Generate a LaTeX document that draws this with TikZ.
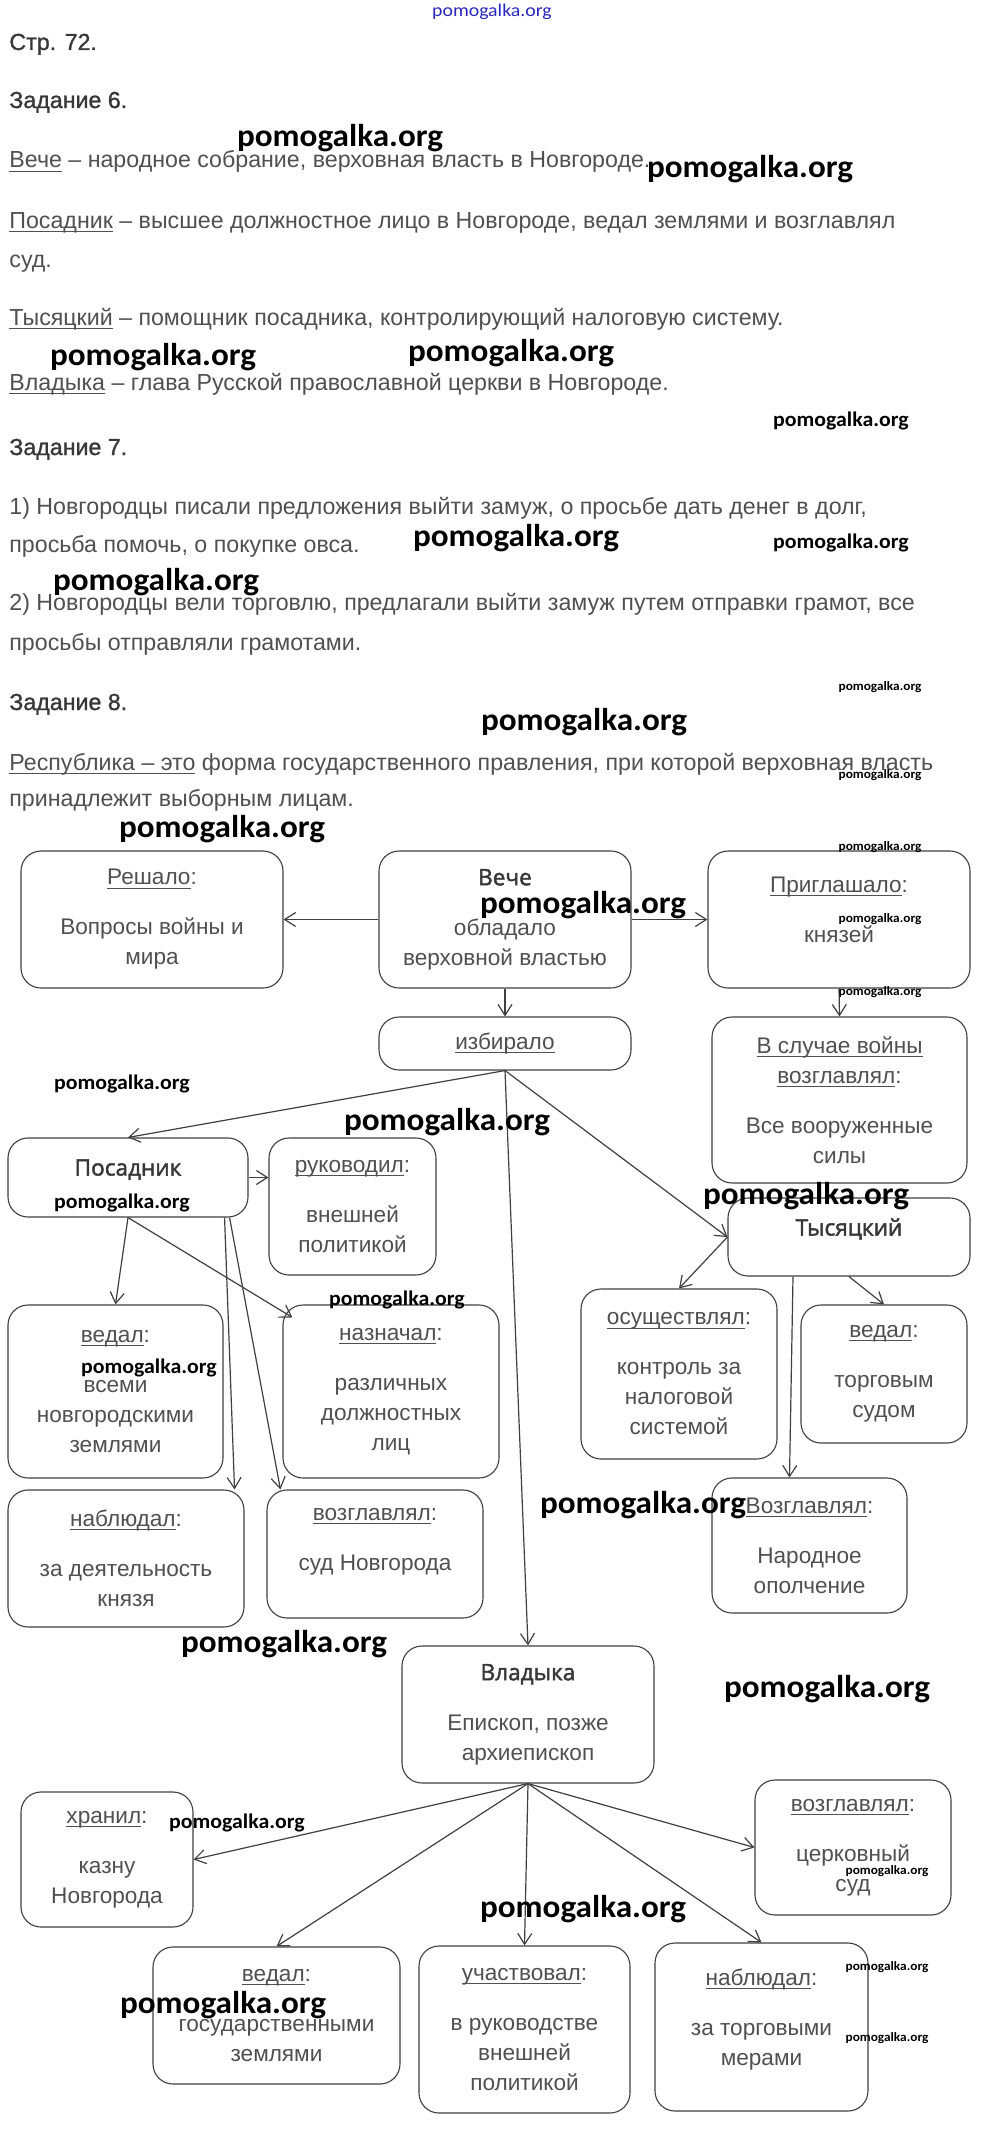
\documentclass[tikz,border=0pt]{standalone}
\usepackage{fontspec}
\setmainfont{Liberation Sans}
\newfontfamily\headfont{Liberation Sans}[FakeBold=1.2]
\newfontfamily\titlefont{Open Sans}[FakeBold=2]
\newfontfamily\wmfont{Carlito}[FakeStretch=1.05]
\newfontfamily\wmthin{Carlito}[FakeStretch=1.1]
\usetikzlibrary{arrows.meta}
\definecolor{linec}{HTML}{404040}
\definecolor{txtc}{HTML}{505050}
\definecolor{headc}{HTML}{383838}
\definecolor{wmblue}{HTML}{2828C0}
\newsavebox\ulbox
\newcommand\undl[1]{\sbox\ulbox{#1}\rlap{\rule[-1.8pt]{\wd\ulbox}{0.5pt}}\usebox\ulbox}
\newcommand\ttl[1]{{\titlefont\color{headc}#1}}
\begin{document}
\begin{tikzpicture}[
    x=0.5pt, y=-0.5pt,
    txt/.style={anchor=base west, inner sep=0pt, text=txtc, font=\fontsize{11.6}{15}\selectfont},
    head/.style={txt, text=headc, font=\headfont\fontsize{11.6}{15}\selectfont},
    box/.style={draw=linec, line width=0.55pt, rounded corners=10pt, align=center,
      inner sep=0pt, text=txtc, font=\fontsize{11.3}{15}\selectfont},
    wh/.style 2 args={minimum width=#1*0.5pt, minimum height=#2*0.5pt},
    arr/.style={draw=linec, line width=0.6pt, -{Straight Barb[length=5.5pt,width=7pt]}},
    wmbig/.style={inner sep=0pt, font=\wmfont\bfseries\fontsize{15.8}{17}\selectfont},
    wmmid/.style={inner sep=0pt, font=\wmfont\bfseries\fontsize{10.4}{12}\selectfont},
    wmsmall/.style={inner sep=0pt, font=\wmfont\bfseries\fontsize{6.35}{7}\selectfont}
  ]
    \fill[white] (0,0) rectangle (982,2130);
    \useasboundingbox (0,0) rectangle (982,2130);
    \node[inner sep=0pt, text=wmblue, font=\wmthin\fontsize{9}{10}\selectfont] (site) at (492,12) {pomogalka.org};

    \node[head] (page) at (9,50) {Стр. 72.};
    \node[head] (task6) at (9,108) {Задание 6.};
    \node[txt] (def1) at (9,168) {\undl{Вече} – народное собрание, верховная власть в Новгороде.};
    \node[txt] (def2) at (9,228) {\undl{Посадник} – высшее должностное лицо в Новгороде, ведал землями и возглавлял};
    \node[txt] (def2b) at (9,267) {суд.};
    \node[txt] (def3) at (9,325) {\undl{Тысяцкий} – помощник посадника, контролирующий налоговую систему.};
    \node[txt] (def4) at (9,390) {\undl{Владыка} – глава Русской православной церкви в Новгороде.};
    \node[head] (task7) at (9,455) {Задание 7.};
    \node[txt] (ans1) at (9,514) {1) Новгородцы писали предложения выйти замуж, о просьбе дать денег в долг,};
    \node[txt] (ans1b) at (9,552) {просьба помочь, о покупке овса.};
    \node[txt] (ans2) at (9,610) {2) Новгородцы вели торговлю, предлагали выйти замуж путем отправки грамот, все};
    \node[txt] (ans2b) at (9,650) {просьбы отправляли грамотами.};
    \node[head] (task8) at (9,710) {Задание 8.};
    \node[txt] (rep) at (9,770) {\undl{Республика – это} форма государственного правления, при которой верховная власть};
    \node[txt] (repb) at (9,806) {принадлежит выборным лицам.};

    \node[box, wh={262}{137}] (reshalo) at (152,919.5) {\undl{Решало}:\\[10pt]Вопросы войны и\\мира};
    \node[box, wh={252}{137}] (veche) at (505,919.5) {\ttl{Вече}\\[10pt]обладало\\верховной властью};
    \node[box, wh={262}{137}] (prigl) at (839,919.5) {\undl{Приглашало}:\\[10pt]князей\\[-5pt]\mbox{}};
    \node[box, wh={252}{53}] (izbir) at (505,1043.5) {\undl{избирало}};
    \node[box, wh={255}{166}] (voyna) at (839.5,1100) {\undl{В случае войны}\\\undl{возглавлял}:\\[10pt]Все вооруженные\\силы};
    \node[box, wh={240}{79}] (posad) at (128,1177.5) {\ttl{Посадник}\\[-5pt]\mbox{}};
    \node[box, wh={167}{137}] (rukov) at (352.5,1206.5) {\undl{руководил}:\\[10pt]внешней\\политикой};
    \node[box, wh={242}{78}] (tys) at (849,1237) {\ttl{Тысяцкий}\\[-5pt]\mbox{}};
    \node[box, wh={215}{173}] (vedal1) at (115.5,1391.5) {\undl{ведал}:\\[10pt]всеми\\новгородскими\\землями};
    \node[box, wh={216}{173}] (nazn) at (391,1391.5) {\undl{назначал}:\\[10pt]различных\\должностных\\лиц};
    \node[box, wh={196}{170}] (osush) at (679,1374) {\undl{осуществлял}:\\[10pt]контроль за\\налоговой\\системой};
    \node[box, wh={166}{138}] (vedal2) at (884,1374) {\undl{ведал}:\\[10pt]торговым\\судом};
    \node[box, wh={236}{137}] (nabl1) at (126,1558.5) {\undl{наблюдал}:\\[10pt]за деятельность\\князя};
    \node[box, wh={216}{128}] (vozgl1) at (375,1554) {\undl{возглавлял}:\\[10pt]суд Новгорода\\\mbox{}};
    \node[box, wh={195}{135}] (vozgl2) at (809.5,1545.5) {\undl{Возглавлял}:\\[10pt]Народное\\ополчение};
    \node[box, wh={252}{137}] (vlad) at (528,1714.5) {\ttl{Владыка}\\[10pt]Епископ, позже\\архиепископ};
    \node[box, wh={172}{135}] (khran) at (107,1859.5) {\undl{хранил}:\\[10pt]казну\\Новгорода};
    \node[box, wh={196}{135}] (vozgl3) at (853,1847.5) {\undl{возглавлял}:\\[10pt]церковный\\суд};
    \node[box, wh={247}{137}] (vedal3) at (276.5,2015.5) {\undl{ведал}:\\[10pt]государственными\\землями};
    \node[box, wh={211}{167}] (uchast) at (524.5,2029.5) {\undl{участвовал}:\\[10pt]в руководстве\\внешней\\политикой};
    \node[box, wh={213}{168}] (nabl2) at (761.5,2027) {\undl{наблюдал}:\\[10pt]за торговыми\\мерами\\[-5pt]\mbox{}};

    \draw[arr] (veche.west) -- (reshalo.east);
    \draw[arr] (veche.east) -- (prigl.west);
    \draw[arr] (veche.south) -- (izbir.north);
    \draw[arr] (prigl.south) -- (voyna.north);
    \draw[arr] (izbir.south) -- (posad.north);
    \draw[arr] (izbir.south) -- (vlad.north);
    \draw[arr] (izbir.south) -- (tys.west);
    \draw[arr] (posad.east) -- (posad.east -| rukov.west);
    \draw[arr] (posad.south) -- (vedal1.north);
    \draw[arr] (posad.south) -- ([xshift=5pt,yshift=-6.5pt]nazn.north west);
    \draw[arr] ([xshift=-12pt]posad.south east) -- ([xshift=-5pt]nabl1.north east);
    \draw[arr] ([xshift=-9.5pt]posad.south east) -- ([xshift=7pt]vozgl1.north west);
    \draw[arr] (tys.west) -- (osush.north);
    \draw[arr] ([xshift=-28pt]tys.south) -- ([xshift=-10pt]vozgl2.north);
    \draw[arr] (tys.south) -- (vedal2.north);
    \draw[arr] (vlad.south) -- (khran.east);
    \draw[arr] (vlad.south) -- (vedal3.north);
    \draw[arr] (vlad.south) -- (uchast.north);
    \draw[arr] (vlad.south) -- (nabl2.north);
    \draw[arr] (vlad.south) -- (vozgl3.west);

    \foreach \x/\y [count=\i] in {340/138, 750/169, 153/357, 511/353, 516/538, 156/582,
        584/722, 222/829, 583/905, 447/1122, 806/1196, 643/1505, 284/1644, 827/1689,
        583/1909, 223/2005}
      \node[wmbig] (wb\i) at (\x,\y) {pomogalka.org};
    \foreach \x/\y [count=\i] in {841/421, 841/543, 122/1084, 122/1203, 397/1300,
        149/1368, 237/1823}
      \node[wmmid] (wm\i) at (\x,\y) {pomogalka.org};
    \foreach \x/\y [count=\i] in {880/687, 880/775, 880/847, 880/919, 880/992,
        887/1871, 887/1967, 887/2038}
      \node[wmsmall] (ws\i) at (\x,\y) {pomogalka.org};
  \end{tikzpicture}
\end{document}
